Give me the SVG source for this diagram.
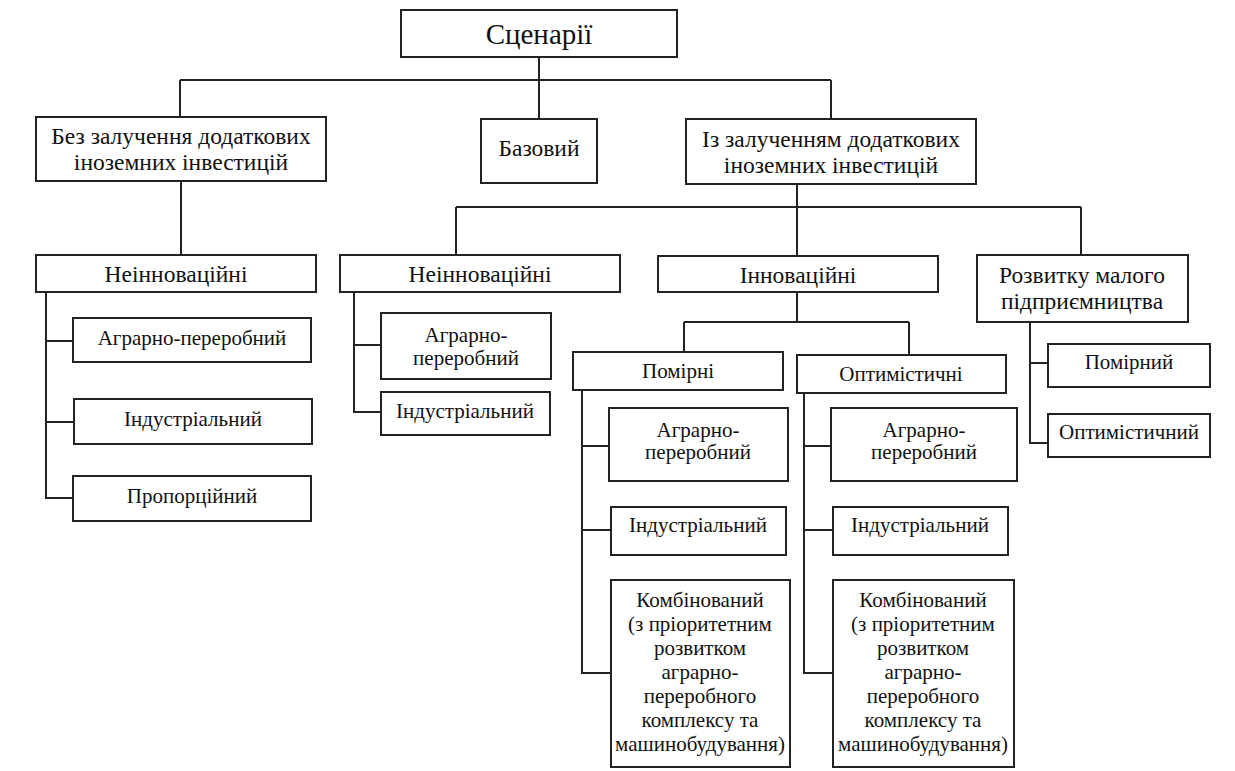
<svg xmlns="http://www.w3.org/2000/svg" width="1235" height="771" viewBox="0 0 1235 771">
<style>
rect{fill:#fff;stroke:#222;stroke-width:2}
#connectors path{fill:none;stroke:#222;stroke-width:2}
text{fill:#111;text-anchor:middle}
.t0{font-size:29px}
.t1{font-size:23.5px}
.t2{font-size:21px}
</style>
<rect x="0" y="0" width="1235" height="771" style="fill:#fff;stroke:none"/>
<g id="connectors">
<path d="M539 57V119M180 80H831M180 80V117M831 80V119"/>
<path d="M181 181V255"/>
<path d="M797 184V256M456 207H1081M456 207V255M1081 207V255"/>
<path d="M46 292V498H73M46 341H73M46 422H74"/>
<path d="M354 292V412H381M354 345H381"/>
<path d="M797 292V322M684 322H909M684 322V352M909 322V355"/>
<path d="M582 390V673H611M582 446H609M582 530H611"/>
<path d="M804 393V673H833M804 446H831M804 530H833"/>
<path d="M1030 322V443H1048M1030 363H1048"/>
</g>
<g font-family="'Liberation Serif', 'DejaVu Serif', serif">
<g id="root"><rect x="401" y="10" width="276" height="47"/><text class="t0" x="539" y="44">Сценарії</text></g>
<g id="bez"><rect x="36" y="117" width="290" height="64"/><text class="t1" x="181" y="144">Без залучення додаткових</text><text class="t1" x="181" y="170">іноземних інвестицій</text></g>
<g id="bazovyi"><rect x="481" y="119" width="116" height="64"/><text class="t1" x="539" y="156">Базовий</text></g>
<g id="iz"><rect x="686" y="119" width="290" height="65"/><text class="t1" x="831" y="147">Із залученням додаткових</text><text class="t1" x="831" y="173">іноземних інвестицій</text></g>
<g id="neinn1"><rect x="36" y="255" width="280" height="37"/><text class="t1" x="176" y="282">Неінноваційні</text></g>
<g id="neinn2"><rect x="340" y="255" width="280" height="37"/><text class="t1" x="480" y="282">Неінноваційні</text></g>
<g id="inn"><rect x="658" y="256" width="280" height="36"/><text class="t1" x="798" y="283">Інноваційні</text></g>
<g id="rozv"><rect x="977" y="255" width="211" height="67"/><text class="t1" x="1082" y="283">Розвитку малого</text><text class="t1" x="1082" y="309">підприємництва</text></g>
<g id="l-agr"><rect x="73" y="318" width="238" height="44"/><text class="t2" x="192" y="345">Аграрно-переробний</text></g>
<g id="l-ind"><rect x="74" y="399" width="238" height="45"/><text class="t2" x="193" y="426">Індустріальний</text></g>
<g id="l-prop"><rect x="73" y="476" width="238" height="45"/><text class="t2" x="192" y="503">Пропорційний</text></g>
<g id="m-agr"><rect x="381" y="313" width="170" height="66"/><text class="t2" x="466" y="342">Аграрно-</text><text class="t2" x="466" y="365">переробний</text></g>
<g id="m-ind"><rect x="381" y="392" width="169" height="43"/><text class="t2" x="465" y="418">Індустріальний</text></g>
<g id="pomirni"><rect x="573" y="352" width="210" height="38"/><text class="t2" x="678" y="378">Помірні</text></g>
<g id="optym"><rect x="797" y="355" width="209" height="38"/><text class="t2" x="901" y="381">Оптимістичні</text></g>
<g id="p-agr"><rect x="609" y="408" width="179" height="73"/><text class="t2" x="698" y="437">Аграрно-</text><text class="t2" x="698" y="459">переробний</text></g>
<g id="p-ind"><rect x="611" y="507" width="175" height="48"/><text class="t2" x="698" y="532">Індустріальний</text></g>
<g id="p-komb"><rect x="611" y="580" width="179" height="187"/><text class="t2"><tspan x="700" y="607">Комбінований</tspan><tspan x="700" y="631">(з пріоритетним</tspan><tspan x="700" y="655">розвитком</tspan><tspan x="700" y="679">аграрно-</tspan><tspan x="700" y="703">переробного</tspan><tspan x="700" y="727">комплексу та</tspan><tspan x="700" y="751">машинобудування)</tspan></text></g>
<g id="o-agr"><rect x="831" y="408" width="186" height="73"/><text class="t2" x="924" y="437">Аграрно-</text><text class="t2" x="924" y="459">переробний</text></g>
<g id="o-ind"><rect x="833" y="507" width="175" height="48"/><text class="t2" x="920" y="532">Індустріальний</text></g>
<g id="o-komb"><rect x="833" y="580" width="181" height="187"/><text class="t2"><tspan x="923" y="607">Комбінований</tspan><tspan x="923" y="631">(з пріоритетним</tspan><tspan x="923" y="655">розвитком</tspan><tspan x="923" y="679">аграрно-</tspan><tspan x="923" y="703">переробного</tspan><tspan x="923" y="727">комплексу та</tspan><tspan x="923" y="751">машинобудування)</tspan></text></g>
<g id="r-pom"><rect x="1048" y="344" width="162" height="43"/><text class="t2" x="1129" y="369">Помірний</text></g>
<g id="r-opt"><rect x="1048" y="414" width="162" height="43"/><text class="t2" x="1129" y="439">Оптимістичний</text></g>
</g>
</svg>
